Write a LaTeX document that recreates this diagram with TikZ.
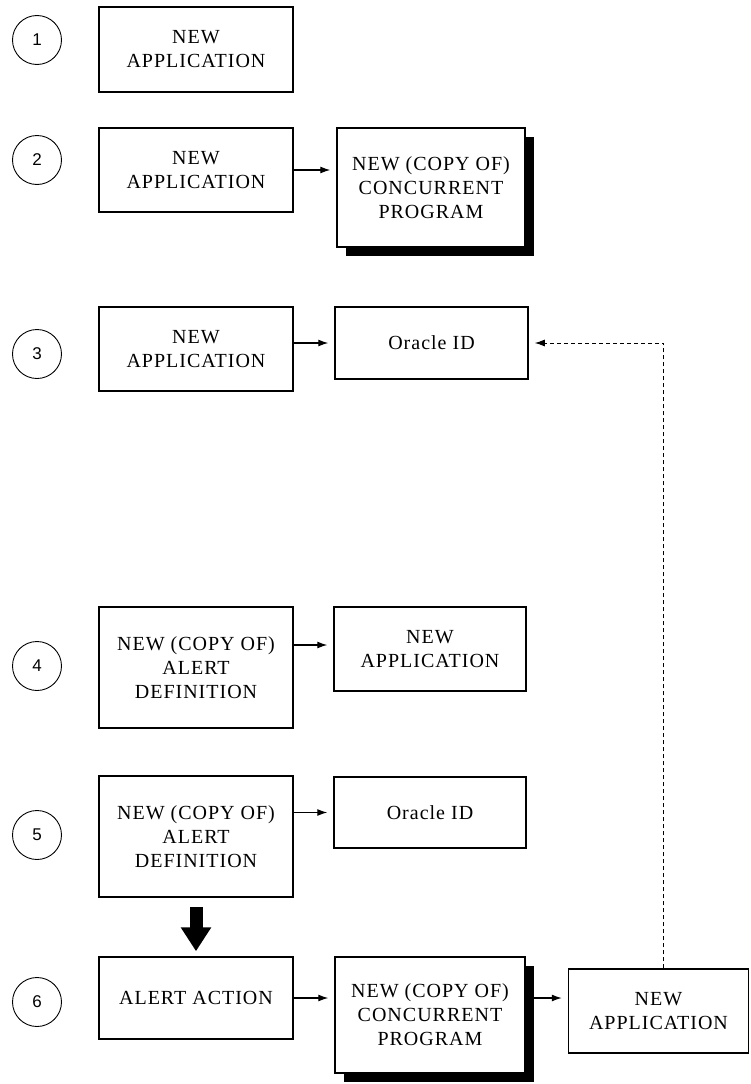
\documentclass[tikz,border=0pt]{standalone}
\usepackage{fontspec}
\setmainfont{Liberation Serif}[LetterSpace=5]
\newfontfamily\digitfont{Liberation Sans}
\usetikzlibrary{arrows.meta,shadows,calc}
\tikzset{
  stepbox/.style={draw, line width=1.5pt, fill=white, align=center, inner sep=0pt,
    font=\fontsize{20}{24}\selectfont},
  numcirc/.style={draw, circle, line width=0.9pt, minimum size=49pt, inner sep=0pt,
    font=\digitfont\fontsize{17}{17}\selectfont},
  link/.style={line width=1.1pt, -{Latex[length=10pt,width=7pt]}, shorten >=6pt},
  shad/.style={drop shadow={shadow xshift=9pt, shadow yshift=-9pt, fill=black, opacity=1}},
  bigarrow/.style={line width=13pt, -{Triangle[length=24pt,width=29pt]}, shorten <=9pt, shorten >=5pt},
  backlink/.style={line width=1pt, dash pattern=on 4pt off 3pt, -{Latex[length=10pt,width=7pt]}, shorten >=6pt}
}
\begin{document}
\begin{tikzpicture}[x=1pt,y=-1pt]
\useasboundingbox (0,0) rectangle (750,1084);
\fill[white] (0,0) rectangle (750,1084);

% row 1
\node[numcirc] (c1) at (37,40) {1};
\node[stepbox, minimum width=194pt, minimum height=85pt] (b1) at (196,49.5) {NEW\\APPLICATION};

% row 2
\node[numcirc] (c2) at (37,160) {2};
\node[stepbox, minimum width=194pt, minimum height=84pt] (a2) at (196,170) {NEW\\APPLICATION};
\node[stepbox, shad, minimum width=188pt, minimum height=119pt] (b2) at (431,187.5) {NEW (COPY OF)\\CONCURRENT\\PROGRAM};

% row 3
\node[numcirc] (c3) at (37,354) {3};
\node[stepbox, minimum width=194pt, minimum height=84pt] (a3) at (196,349) {NEW\\APPLICATION};
\node[stepbox, minimum width=193pt, minimum height=72pt] (o3) at (431.5,343) {Oracle ID};

% row 4
\node[numcirc] (c4) at (37,666) {4};
\node[stepbox, minimum width=194pt, minimum height=121pt] (a4) at (196,667.5) {NEW (COPY OF)\\ALERT\\DEFINITION};
\node[stepbox, minimum width=192pt, minimum height=84pt] (n4) at (430,649) {NEW\\APPLICATION};

% row 5
\node[numcirc] (c5) at (37,835) {5};
\node[stepbox, minimum width=194pt, minimum height=121pt] (a5) at (196,836.5) {NEW (COPY OF)\\ALERT\\DEFINITION};
\node[stepbox, minimum width=192pt, minimum height=71pt] (o5) at (430,812.5) {Oracle ID};

% row 6
\node[numcirc] (c6) at (37,1002) {6};
\node[stepbox, minimum width=194pt, minimum height=82pt] (a6) at (196,998) {ALERT ACTION};
\node[stepbox, shad, minimum width=190pt, minimum height=116pt] (b6) at (430,1015) {NEW (COPY OF)\\CONCURRENT\\PROGRAM};
\node[stepbox, minimum width=180pt, minimum height=84pt] (cc) at (658.5,1011) {NEW\\APPLICATION};

% connectors
\draw[link] (a2.east) -- (a2.east -| b2.west);
\draw[link] (o3.west -| a3.east) -- (o3.west);
\draw[link] ([yshift=4pt]n4.west -| a4.east) -- ([yshift=4pt]n4.west);
\draw[link] (o5.west -| a5.east) -- (o5.west);
\draw[bigarrow] (a5) -- (a6);
\draw[link] (a6.east) -- (a6.east -| b6.west);
\draw[link] (a6.east -| b6.east) -- (a6.east -| cc.west);
\draw[backlink] ([xshift=5pt]cc.north) |- (o3.east);
\end{tikzpicture}
\end{document}
